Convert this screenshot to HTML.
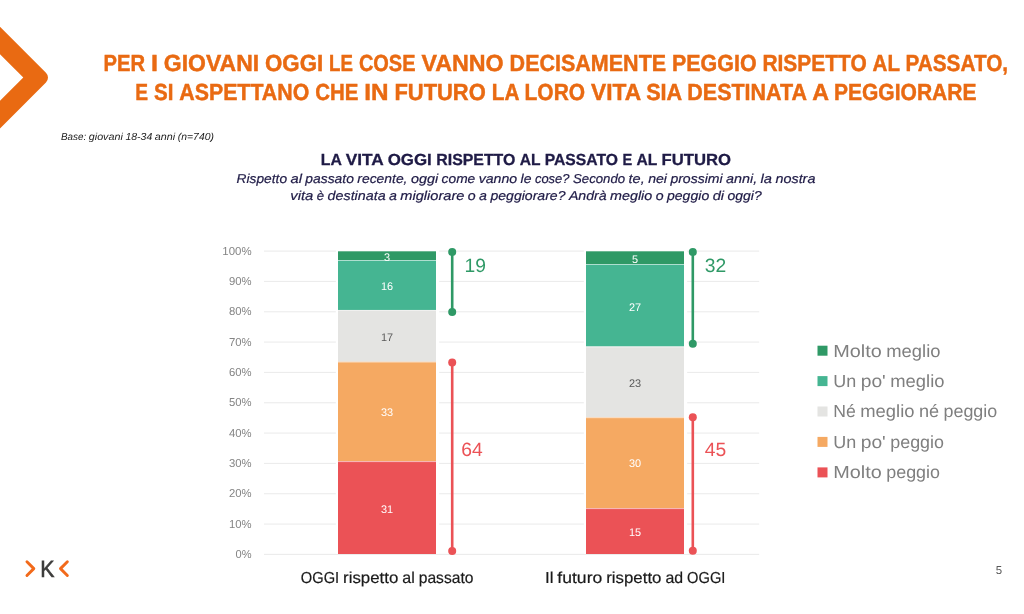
<!DOCTYPE html>
<html lang="it"><head><meta charset="utf-8"><title>La vita oggi rispetto al passato e al futuro</title>
<style>html,body{margin:0;padding:0;background:#fff}body{width:1024px;height:614px;overflow:hidden}svg{display:block}text{font-family:"Liberation Sans",sans-serif;white-space:pre;text-rendering:geometricPrecision}</style></head><body>
<svg width="1024" height="614" viewBox="0 0 1024 614">
<rect width="1024" height="614" fill="#fff"/>
<path d="M0,26.7 L45.95,72.65 A7,7 0 0 1 45.95,82.55 L0,128.5 L0,100.7 L23.3,77.5 L0,54.2 Z" fill="#E96A12"/>
<rect x="264" y="553.85" width="495.2" height="1.1" fill="#ECECEC"/>
<rect x="264" y="523.52" width="495.2" height="1.1" fill="#ECECEC"/>
<rect x="264" y="493.19" width="495.2" height="1.1" fill="#ECECEC"/>
<rect x="264" y="462.86" width="495.2" height="1.1" fill="#ECECEC"/>
<rect x="264" y="432.53" width="495.2" height="1.1" fill="#ECECEC"/>
<rect x="264" y="402.20" width="495.2" height="1.1" fill="#ECECEC"/>
<rect x="264" y="371.87" width="495.2" height="1.1" fill="#ECECEC"/>
<rect x="264" y="341.54" width="495.2" height="1.1" fill="#ECECEC"/>
<rect x="264" y="311.21" width="495.2" height="1.1" fill="#ECECEC"/>
<rect x="264" y="280.88" width="495.2" height="1.1" fill="#ECECEC"/>
<rect x="264" y="250.55" width="495.2" height="1.1" fill="#ECECEC"/>
<rect x="335.8" y="250.10" width="103.4" height="303.90" fill="#fff"/>
<rect x="338.0" y="251.30" width="98" height="8.90" fill="#2F9966"/>
<rect x="338.0" y="260.20" width="98" height="49.80" fill="#45B592"/>
<rect x="338.0" y="310.00" width="98" height="51.75" fill="#E4E4E2"/>
<rect x="338.0" y="361.75" width="98" height="99.55" fill="#F5A962"/>
<rect x="338.0" y="461.30" width="98" height="92.70" fill="#EB5256"/>
<rect x="338.0" y="260.10" width="98" height="0.9" fill="#fff" fill-opacity="0.55"/>
<rect x="338.0" y="309.90" width="98" height="0.9" fill="#fff" fill-opacity="0.55"/>
<rect x="338.0" y="361.65" width="98" height="0.9" fill="#fff" fill-opacity="0.55"/>
<rect x="338.0" y="461.20" width="98" height="0.9" fill="#fff" fill-opacity="0.55"/>
<rect x="583.8" y="250.10" width="103.4" height="303.90" fill="#fff"/>
<rect x="586.0" y="251.30" width="98" height="12.90" fill="#2F9966"/>
<rect x="586.0" y="264.20" width="98" height="82.40" fill="#45B592"/>
<rect x="586.0" y="346.60" width="98" height="70.80" fill="#E4E4E2"/>
<rect x="586.0" y="417.40" width="98" height="90.90" fill="#F5A962"/>
<rect x="586.0" y="508.30" width="98" height="45.70" fill="#EB5256"/>
<rect x="586.0" y="264.10" width="98" height="0.9" fill="#fff" fill-opacity="0.55"/>
<rect x="586.0" y="346.50" width="98" height="0.9" fill="#fff" fill-opacity="0.55"/>
<rect x="586.0" y="417.30" width="98" height="0.9" fill="#fff" fill-opacity="0.55"/>
<rect x="586.0" y="508.20" width="98" height="0.9" fill="#fff" fill-opacity="0.55"/>
<rect x="450.90" y="252.0" width="2.6" height="59.90" fill="#2F9966"/>
<circle cx="452.2" cy="252.0" r="4" fill="#2F9966"/><circle cx="452.2" cy="311.9" r="4" fill="#2F9966"/>
<rect x="450.90" y="362.6" width="2.6" height="188.40" fill="#EB5256"/>
<circle cx="452.2" cy="362.6" r="4" fill="#EB5256"/><circle cx="452.2" cy="551.0" r="4" fill="#EB5256"/>
<rect x="691.50" y="252.1" width="2.6" height="91.70" fill="#2F9966"/>
<circle cx="692.8" cy="252.1" r="4" fill="#2F9966"/><circle cx="692.8" cy="343.8" r="4" fill="#2F9966"/>
<rect x="691.50" y="417.2" width="2.6" height="133.60" fill="#EB5256"/>
<circle cx="692.8" cy="417.2" r="4" fill="#EB5256"/><circle cx="692.8" cy="550.8" r="4" fill="#EB5256"/>
<rect x="817.5" y="345.70" width="10" height="10" fill="#2F9966"/>
<rect x="817.5" y="376.10" width="10" height="10" fill="#45B592"/>
<rect x="817.5" y="406.50" width="10" height="10" fill="#E4E4E2"/>
<rect x="817.5" y="436.90" width="10" height="10" fill="#F5A962"/>
<rect x="817.5" y="467.40" width="10" height="10" fill="#EB5256"/>
<path d="M26.95,561.75 L33.8,568.6 L26.95,575.45" fill="none" stroke="#F26A1B" stroke-width="2.9" stroke-linecap="round" stroke-linejoin="round"/>
<path d="M67.35,561.75 L60.5,568.6 L67.35,575.45" fill="none" stroke="#F26A1B" stroke-width="2.9" stroke-linecap="round" stroke-linejoin="round"/>
<text y="71.10" font-size="23.20" font-weight="bold" font-style="normal" fill="#E96A12" stroke="#E96A12" stroke-width="0.45"><tspan x="103.53" textLength="41.52" lengthAdjust="spacingAndGlyphs">PER</tspan> <tspan x="150.95" textLength="7.00" lengthAdjust="spacingAndGlyphs">I</tspan> <tspan x="163.87" textLength="95.25" lengthAdjust="spacingAndGlyphs">GIOVANI</tspan> <tspan x="265.03" textLength="58.16" lengthAdjust="spacingAndGlyphs">OGGI</tspan> <tspan x="329.09" textLength="23.89" lengthAdjust="spacingAndGlyphs">LE</tspan> <tspan x="358.90" textLength="56.61" lengthAdjust="spacingAndGlyphs">COSE</tspan> <tspan x="421.42" textLength="82.28" lengthAdjust="spacingAndGlyphs">VANNO</tspan> <tspan x="509.62" textLength="156.52" lengthAdjust="spacingAndGlyphs">DECISAMENTE</tspan> <tspan x="672.04" textLength="84.52" lengthAdjust="spacingAndGlyphs">PEGGIO</tspan> <tspan x="762.46" textLength="104.22" lengthAdjust="spacingAndGlyphs">RISPETTO</tspan> <tspan x="872.59" textLength="27.00" lengthAdjust="spacingAndGlyphs">AL</tspan> <tspan x="905.50" textLength="102.58" lengthAdjust="spacingAndGlyphs">PASSATO,</tspan></text>
<text y="100.00" font-size="23.20" font-weight="bold" font-style="normal" fill="#E96A12" stroke="#E96A12" stroke-width="0.45"><tspan x="135.31" textLength="12.78" lengthAdjust="spacingAndGlyphs">E</tspan> <tspan x="153.99" textLength="19.38" lengthAdjust="spacingAndGlyphs">SI</tspan> <tspan x="179.28" textLength="129.98" lengthAdjust="spacingAndGlyphs">ASPETTANO</tspan> <tspan x="315.17" textLength="43.17" lengthAdjust="spacingAndGlyphs">CHE</tspan> <tspan x="364.24" textLength="24.25" lengthAdjust="spacingAndGlyphs">IN</tspan> <tspan x="394.40" textLength="91.39" lengthAdjust="spacingAndGlyphs">FUTURO</tspan> <tspan x="491.70" textLength="26.95" lengthAdjust="spacingAndGlyphs">LA</tspan> <tspan x="524.56" textLength="60.53" lengthAdjust="spacingAndGlyphs">LORO</tspan> <tspan x="590.99" textLength="49.27" lengthAdjust="spacingAndGlyphs">VITA</tspan> <tspan x="646.15" textLength="35.25" lengthAdjust="spacingAndGlyphs">SIA</tspan> <tspan x="687.31" textLength="118.95" lengthAdjust="spacingAndGlyphs">DESTINATA</tspan> <tspan x="812.17" textLength="15.89" lengthAdjust="spacingAndGlyphs">A</tspan> <tspan x="833.96" textLength="142.53" lengthAdjust="spacingAndGlyphs">PEGGIORARE</tspan></text>
<text y="140.30" font-size="10.20" font-weight="normal" font-style="italic" fill="#1a1a1a"><tspan x="61.00" textLength="25.22" lengthAdjust="spacingAndGlyphs">Base:</tspan> <tspan x="88.80" textLength="34.02" lengthAdjust="spacingAndGlyphs">giovani</tspan> <tspan x="125.41" textLength="26.84" lengthAdjust="spacingAndGlyphs">18-34</tspan> <tspan x="154.83" textLength="20.41" lengthAdjust="spacingAndGlyphs">anni</tspan> <tspan x="177.81" textLength="36.11" lengthAdjust="spacingAndGlyphs">(n=740)</tspan></text>
<text y="165.00" font-size="16.00" font-weight="bold" font-style="normal" fill="#1F1B46" stroke="#1F1B46" stroke-width="0.3"><tspan x="320.83" textLength="20.47" lengthAdjust="spacingAndGlyphs">LA</tspan> <tspan x="345.78" textLength="37.42" lengthAdjust="spacingAndGlyphs">VITA</tspan> <tspan x="387.67" textLength="44.12" lengthAdjust="spacingAndGlyphs">OGGI</tspan> <tspan x="436.28" textLength="79.06" lengthAdjust="spacingAndGlyphs">RISPETTO</tspan> <tspan x="519.83" textLength="20.47" lengthAdjust="spacingAndGlyphs">AL</tspan> <tspan x="544.78" textLength="73.12" lengthAdjust="spacingAndGlyphs">PASSATO</tspan> <tspan x="622.39" textLength="9.72" lengthAdjust="spacingAndGlyphs">E</tspan> <tspan x="636.60" textLength="20.48" lengthAdjust="spacingAndGlyphs">AL</tspan> <tspan x="661.55" textLength="69.42" lengthAdjust="spacingAndGlyphs">FUTURO</tspan></text>
<text y="183.00" font-size="12.90" font-weight="normal" font-style="italic" fill="#1F1B46" stroke="#1F1B46" stroke-width="0.2"><tspan x="236.60" textLength="50.44" lengthAdjust="spacingAndGlyphs">Rispetto</tspan> <tspan x="290.49" textLength="11.44" lengthAdjust="spacingAndGlyphs">al</tspan> <tspan x="305.38" textLength="48.50" lengthAdjust="spacingAndGlyphs">passato</tspan> <tspan x="357.35" textLength="50.12" lengthAdjust="spacingAndGlyphs">recente,</tspan> <tspan x="410.95" textLength="27.20" lengthAdjust="spacingAndGlyphs">oggi</tspan> <tspan x="441.62" textLength="33.64" lengthAdjust="spacingAndGlyphs">come</tspan> <tspan x="478.71" textLength="38.44" lengthAdjust="spacingAndGlyphs">vanno</tspan> <tspan x="520.60" textLength="10.88" lengthAdjust="spacingAndGlyphs">le</tspan> <tspan x="534.95" textLength="34.58" lengthAdjust="spacingAndGlyphs">cose?</tspan> <tspan x="572.99" textLength="52.11" lengthAdjust="spacingAndGlyphs">Secondo</tspan> <tspan x="628.55" textLength="16.17" lengthAdjust="spacingAndGlyphs">te,</tspan> <tspan x="648.18" textLength="18.77" lengthAdjust="spacingAndGlyphs">nei</tspan> <tspan x="670.40" textLength="52.22" lengthAdjust="spacingAndGlyphs">prossimi</tspan> <tspan x="726.07" textLength="31.06" lengthAdjust="spacingAndGlyphs">anni,</tspan> <tspan x="760.60" textLength="11.44" lengthAdjust="spacingAndGlyphs">la</tspan> <tspan x="775.49" textLength="39.91" lengthAdjust="spacingAndGlyphs">nostra</tspan></text>
<text y="200.00" font-size="12.90" font-weight="normal" font-style="italic" fill="#1F1B46" stroke="#1F1B46" stroke-width="0.2"><tspan x="290.27" textLength="23.12" lengthAdjust="spacingAndGlyphs">vita</tspan> <tspan x="316.84" textLength="7.31" lengthAdjust="spacingAndGlyphs">è</tspan> <tspan x="327.60" textLength="58.00" lengthAdjust="spacingAndGlyphs">destinata</tspan> <tspan x="389.04" textLength="7.88" lengthAdjust="spacingAndGlyphs">a</tspan> <tspan x="400.37" textLength="64.02" lengthAdjust="spacingAndGlyphs">migliorare</tspan> <tspan x="467.82" textLength="7.88" lengthAdjust="spacingAndGlyphs">o</tspan> <tspan x="479.13" textLength="7.88" lengthAdjust="spacingAndGlyphs">a</tspan> <tspan x="490.46" textLength="75.02" lengthAdjust="spacingAndGlyphs">peggiorare?</tspan> <tspan x="568.91" textLength="37.70" lengthAdjust="spacingAndGlyphs">Andrà</tspan> <tspan x="610.07" textLength="42.16" lengthAdjust="spacingAndGlyphs">meglio</tspan> <tspan x="655.66" textLength="7.86" lengthAdjust="spacingAndGlyphs">o</tspan> <tspan x="666.98" textLength="42.27" lengthAdjust="spacingAndGlyphs">peggio</tspan> <tspan x="712.70" textLength="11.39" lengthAdjust="spacingAndGlyphs">di</tspan> <tspan x="727.52" textLength="34.20" lengthAdjust="spacingAndGlyphs">oggi?</tspan></text>
<text y="558.00" font-size="11.50" font-weight="normal" font-style="normal" fill="#848484"><tspan x="235.60" textLength="16.00" lengthAdjust="spacingAndGlyphs">0%</tspan></text>
<text y="527.67" font-size="11.50" font-weight="normal" font-style="normal" fill="#848484"><tspan x="228.96" textLength="22.64" lengthAdjust="spacingAndGlyphs">10%</tspan></text>
<text y="497.34" font-size="11.50" font-weight="normal" font-style="normal" fill="#848484"><tspan x="228.96" textLength="22.64" lengthAdjust="spacingAndGlyphs">20%</tspan></text>
<text y="467.01" font-size="11.50" font-weight="normal" font-style="normal" fill="#848484"><tspan x="228.96" textLength="22.64" lengthAdjust="spacingAndGlyphs">30%</tspan></text>
<text y="436.68" font-size="11.50" font-weight="normal" font-style="normal" fill="#848484"><tspan x="228.96" textLength="22.64" lengthAdjust="spacingAndGlyphs">40%</tspan></text>
<text y="406.35" font-size="11.50" font-weight="normal" font-style="normal" fill="#848484"><tspan x="228.96" textLength="22.64" lengthAdjust="spacingAndGlyphs">50%</tspan></text>
<text y="376.02" font-size="11.50" font-weight="normal" font-style="normal" fill="#848484"><tspan x="228.96" textLength="22.64" lengthAdjust="spacingAndGlyphs">60%</tspan></text>
<text y="345.69" font-size="11.50" font-weight="normal" font-style="normal" fill="#848484"><tspan x="228.96" textLength="22.64" lengthAdjust="spacingAndGlyphs">70%</tspan></text>
<text y="315.36" font-size="11.50" font-weight="normal" font-style="normal" fill="#848484"><tspan x="228.96" textLength="22.64" lengthAdjust="spacingAndGlyphs">80%</tspan></text>
<text y="285.03" font-size="11.50" font-weight="normal" font-style="normal" fill="#848484"><tspan x="228.96" textLength="22.64" lengthAdjust="spacingAndGlyphs">90%</tspan></text>
<text y="254.70" font-size="11.50" font-weight="normal" font-style="normal" fill="#848484"><tspan x="222.32" textLength="29.28" lengthAdjust="spacingAndGlyphs">100%</tspan></text>
<text y="582.70" font-size="15.90" font-weight="normal" font-style="normal" fill="#1a1a1a" stroke="#1a1a1a" stroke-width="0.2"><tspan x="300.85" textLength="38.28" lengthAdjust="spacingAndGlyphs">OGGI</tspan> <tspan x="343.10" textLength="55.23" lengthAdjust="spacingAndGlyphs">rispetto</tspan> <tspan x="402.30" textLength="12.47" lengthAdjust="spacingAndGlyphs">al</tspan> <tspan x="418.74" textLength="54.72" lengthAdjust="spacingAndGlyphs">passato</tspan></text>
<text y="582.70" font-size="15.90" font-weight="normal" font-style="normal" fill="#1a1a1a" stroke="#1a1a1a" stroke-width="0.2"><tspan x="544.93" textLength="8.48" lengthAdjust="spacingAndGlyphs">Il</tspan> <tspan x="557.37" textLength="44.89" lengthAdjust="spacingAndGlyphs">futuro</tspan> <tspan x="606.23" textLength="55.23" lengthAdjust="spacingAndGlyphs">rispetto</tspan> <tspan x="665.43" textLength="17.69" lengthAdjust="spacingAndGlyphs">ad</tspan> <tspan x="687.07" textLength="38.30" lengthAdjust="spacingAndGlyphs">OGGI</tspan></text>
<text y="357.00" font-size="17.60" font-weight="normal" font-style="normal" fill="#7F7F7F"><tspan x="833.30" textLength="48.53" lengthAdjust="spacingAndGlyphs">Molto</tspan> <tspan x="886.25" textLength="54.23" lengthAdjust="spacingAndGlyphs">meglio</tspan></text>
<text y="387.00" font-size="17.60" font-weight="normal" font-style="normal" fill="#7F7F7F"><tspan x="833.30" textLength="22.98" lengthAdjust="spacingAndGlyphs">Un</tspan> <tspan x="860.72" textLength="25.08" lengthAdjust="spacingAndGlyphs">po'</tspan> <tspan x="890.24" textLength="54.22" lengthAdjust="spacingAndGlyphs">meglio</tspan></text>
<text y="417.00" font-size="17.60" font-weight="normal" font-style="normal" fill="#7F7F7F"><tspan x="833.30" textLength="22.52" lengthAdjust="spacingAndGlyphs">Né</tspan> <tspan x="860.25" textLength="54.22" lengthAdjust="spacingAndGlyphs">meglio</tspan> <tspan x="918.91" textLength="20.16" lengthAdjust="spacingAndGlyphs">né</tspan> <tspan x="943.50" textLength="53.77" lengthAdjust="spacingAndGlyphs">peggio</tspan></text>
<text y="448.00" font-size="17.60" font-weight="normal" font-style="normal" fill="#7F7F7F"><tspan x="833.30" textLength="22.98" lengthAdjust="spacingAndGlyphs">Un</tspan> <tspan x="860.72" textLength="25.08" lengthAdjust="spacingAndGlyphs">po'</tspan> <tspan x="890.24" textLength="53.78" lengthAdjust="spacingAndGlyphs">peggio</tspan></text>
<text y="478.00" font-size="17.60" font-weight="normal" font-style="normal" fill="#7F7F7F"><tspan x="833.30" textLength="48.53" lengthAdjust="spacingAndGlyphs">Molto</tspan> <tspan x="886.25" textLength="53.78" lengthAdjust="spacingAndGlyphs">peggio</tspan></text>
<text y="260.80" font-size="11.00" font-weight="normal" font-style="normal" fill="#fff"><tspan x="384.05" textLength="6.09" lengthAdjust="spacingAndGlyphs">3</tspan></text>
<text y="263.00" font-size="11.00" font-weight="normal" font-style="normal" fill="#fff"><tspan x="632.05" textLength="6.09" lengthAdjust="spacingAndGlyphs">5</tspan></text>
<text y="290.20" font-size="11.00" font-weight="normal" font-style="normal" fill="#fff"><tspan x="381.01" textLength="12.17" lengthAdjust="spacingAndGlyphs">16</tspan></text>
<text y="310.70" font-size="11.00" font-weight="normal" font-style="normal" fill="#fff"><tspan x="629.01" textLength="12.17" lengthAdjust="spacingAndGlyphs">27</tspan></text>
<text y="340.80" font-size="11.00" font-weight="normal" font-style="normal" fill="#595959"><tspan x="381.01" textLength="12.17" lengthAdjust="spacingAndGlyphs">17</tspan></text>
<text y="386.60" font-size="11.00" font-weight="normal" font-style="normal" fill="#595959"><tspan x="629.01" textLength="12.17" lengthAdjust="spacingAndGlyphs">23</tspan></text>
<text y="416.00" font-size="11.00" font-weight="normal" font-style="normal" fill="#fff"><tspan x="381.01" textLength="12.17" lengthAdjust="spacingAndGlyphs">33</tspan></text>
<text y="467.00" font-size="11.00" font-weight="normal" font-style="normal" fill="#fff"><tspan x="629.01" textLength="12.17" lengthAdjust="spacingAndGlyphs">30</tspan></text>
<text y="512.70" font-size="11.00" font-weight="normal" font-style="normal" fill="#fff"><tspan x="381.01" textLength="12.17" lengthAdjust="spacingAndGlyphs">31</tspan></text>
<text y="535.90" font-size="11.00" font-weight="normal" font-style="normal" fill="#fff"><tspan x="629.01" textLength="12.17" lengthAdjust="spacingAndGlyphs">15</tspan></text>
<text id="n19" x="464.6" y="272" font-size="19.3" font-weight="normal" font-style="normal" fill="#2F9966" text-anchor="start">19</text>
<text id="n64" x="461.3" y="456" font-size="19.3" font-weight="normal" font-style="normal" fill="#EB5256" text-anchor="start">64</text>
<text id="n32" x="704.8" y="272" font-size="19.3" font-weight="normal" font-style="normal" fill="#2F9966" text-anchor="start">32</text>
<text id="n45" x="704.7" y="456" font-size="19.3" font-weight="normal" font-style="normal" fill="#EB5256" text-anchor="start">45</text>
<text y="574.00" font-size="11.50" font-weight="normal" font-style="normal" fill="#595959"><tspan x="995.70" textLength="6.39" lengthAdjust="spacingAndGlyphs">5</tspan></text>
<text id="K" x="40.3" y="577" font-size="23.4" font-weight="normal" font-style="normal" fill="#3C3C3B" stroke="#3C3C3B" stroke-width="0.6" textLength="14.2" lengthAdjust="spacingAndGlyphs" text-anchor="start">K</text>
</svg></body></html>
